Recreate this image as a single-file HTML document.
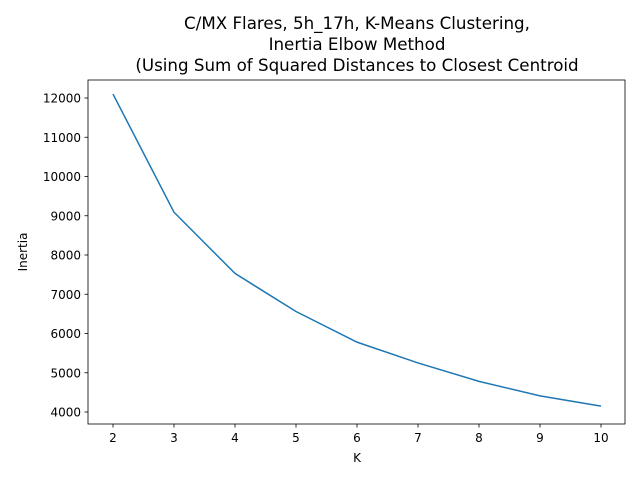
<!DOCTYPE html>
<html><head><meta charset="utf-8"><style>
body{margin:0;background:#fff}
svg text{font-family:"DejaVu Sans","Liberation Sans",sans-serif;fill:#000}
</style></head><body>
<svg id="chart" width="640" height="480">
<rect x="0" y="0" width="640" height="480" fill="#fff"/>
<g font-size="16.7" text-anchor="middle">
<text x="357" y="29">C/MX Flares, 5h_17h, K-Means Clustering,</text>
<text x="357" y="50">Inertia Elbow Method</text>
<text x="357" y="71">(Using Sum of Squared Distances to Closest Centroid</text>
</g>
<g id="xt"></g>
<g id="yt"></g>
<path id="line" fill="none" stroke="#1f77b4" stroke-width="1.5"/>
<rect x="88" y="80" width="537" height="344" fill="none" stroke="#000" stroke-width="0.8"/>
<text x="357" y="462" font-size="12" text-anchor="middle">K</text>
<text transform="translate(27,252) rotate(-90)" font-size="12" text-anchor="middle">Inertia</text>
</svg>
<script>
const kValues=[2,3,4,5,6,7,8,9,10];
const inertia=[12100,9090,7530,6560,5780,5250,4780,4410,4150];
const xTicks=[2,3,4,5,6,7,8,9,10];
const yTicks=[4000,5000,6000,7000,8000,9000,10000,11000,12000];
const NS="http://www.w3.org/2000/svg";
const xs=k=>113+(k-2)*61;
const ys=v=>412-(v-4000)*314/8000;
const xt=document.getElementById('xt'),yt=document.getElementById('yt');
xTicks.forEach(t=>{
 const l=document.createElementNS(NS,'line');
 
 
 l.setAttribute('x1',xs(t));l.setAttribute('x2',xs(t));l.setAttribute('y1',424);l.setAttribute('y2',427.5);l.setAttribute('stroke','#000');l.setAttribute('stroke-width','0.8');xt.appendChild(l);
 const tx=document.createElementNS(NS,'text');
 
 
 tx.setAttribute('x',xs(t));tx.setAttribute('y',442);tx.setAttribute('font-size','12');tx.setAttribute('text-anchor','middle');tx.textContent=t;xt.appendChild(tx);
});
yTicks.forEach(t=>{
 const l=document.createElementNS(NS,'line');
 
 
 l.setAttribute('x1',84.5);l.setAttribute('x2',88);l.setAttribute('y1',ys(t));l.setAttribute('y2',ys(t));l.setAttribute('stroke','#000');l.setAttribute('stroke-width','0.8');yt.appendChild(l);
 const tx=document.createElementNS(NS,'text');
 
 
 tx.setAttribute('x',81);tx.setAttribute('y',ys(t)+4.5);tx.setAttribute('font-size','12');tx.setAttribute('text-anchor','end');tx.textContent=t;yt.appendChild(tx);
});
document.getElementById('line').setAttribute('d',kValues.map((k,i)=>(i?'L':'M')+xs(k)+','+ys(inertia[i])).join(''));
</script>
</body></html>
